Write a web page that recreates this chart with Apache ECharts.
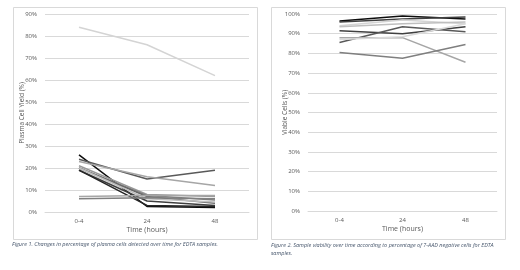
<!DOCTYPE html>
<html>
<head>
<meta charset="utf-8">
<script src="https://cdn.jsdelivr.net/npm/echarts@6/dist/echarts.min.js"></script>
<style>
html,body{margin:0;padding:0;background:#fff}
#chart{width:520px;height:270px}
</style>
</head>
<body>
<div id="chart"></div>
<script>
var timeCats = ['0-4', '24', '48'];

// Figure 1: plasma cell yield (%)
var yieldSeries = [
    [84, 76, 62],
    [26, 2.5, 2],
    [24, 15, 19],
    [23, 16, 12],
    [21, 8, 7],
    [20, 7.5, 5.5],
    [20, 7, 4],
    [20, 6, 4.5],
    [19, 5, 3],
    [19, 3, 2.5],
    [7, 7.5, 7.5],
    [6, 6.5, 6]
];
var yieldColors = ['#d4d4d4', '#0d0d0d', '#595959', '#a6a6a6', '#999999', '#7f7f7f',
    '#666666', '#bfbfbf', '#404040', '#262626', '#a6a6a6', '#808080'];

// Figure 2: viable cells (%)
var viableSeries = [
    [96.5, 99, 97.5],
    [96, 97.5, 98.5],
    [94, 97, 95],
    [93.5, 95, 96],
    [91.5, 90, 93.5],
    [85.5, 93.5, 91],
    [88, 88, 75.5],
    [87, 88.5, 95],
    [80.5, 77.5, 84.5]
];
var viableColors = ['#0d0d0d', '#404040', '#d4d4d4', '#bfbfbf', '#404040', '#595959',
    '#a6a6a6', '#d9d9d9', '#7f7f7f'];

var yieldTicks = {min: 0, max: 90, interval: 10};
var viableTicks = {min: 0, max: 100, interval: 10};

var labelStyle = {color: '#595959', fontSize: 6, fontFamily: 'Open Sans'};
var gridColor = '#d9d9d9';

function makeY(idx, ticks, name, gap) {
    return {
        type: 'value', gridIndex: idx, min: ticks.min, max: ticks.max, interval: ticks.interval,
        name: name, nameLocation: 'middle', nameGap: gap, nameMoveOverlap: false,
        nameTextStyle: {color: '#595959', fontSize: 6.5, fontFamily: 'Open Sans'},
        axisLine: {show: false}, axisTick: {show: false},
        axisLabel: {formatter: '{value}%', color: labelStyle.color, fontSize: labelStyle.fontSize, fontFamily: labelStyle.fontFamily},
        splitLine: {lineStyle: {color: gridColor, width: 1}}
    };
}
function makeX(idx) {
    return {
        type: 'category', gridIndex: idx, data: timeCats, boundaryGap: true,
        name: 'Time (hours)', nameLocation: 'middle', nameGap: 14, nameMoveOverlap: false,
        nameTextStyle: {color: '#595959', fontSize: 7, fontFamily: 'Open Sans'},
        axisLine: {lineStyle: {color: gridColor}}, axisTick: {show: false},
        axisLabel: {color: labelStyle.color, fontSize: labelStyle.fontSize, fontFamily: labelStyle.fontFamily, margin: 6}
    };
}

var series = [];
yieldSeries.forEach(function (d, i) {
    series.push({type: 'line', xAxisIndex: 0, yAxisIndex: 0, data: d, showSymbol: false,
        lineStyle: {color: yieldColors[i], width: 1.5}, itemStyle: {color: yieldColors[i]}});
});
viableSeries.forEach(function (d, i) {
    series.push({type: 'line', xAxisIndex: 1, yAxisIndex: 1, data: d, showSymbol: false,
        lineStyle: {color: viableColors[i], width: 1.5}, itemStyle: {color: viableColors[i]}});
});

var captionStyle = {color: '#44546a', fontSize: 5.5, fontStyle: 'italic', fontWeight: 'normal', fontFamily: 'Open Sans'};

var option = {
    animation: false,
    backgroundColor: '#fff',
    title: [
        {text: 'Figure 1. Changes in percentage of plasma cells detected over time for EDTA samples.',
            left: 12, top: 241, padding: 0, textStyle: captionStyle},
        {text: 'Figure 2. Sample viability over time according to percentage of 7-AAD negative cells for EDTA\nsamples.',
            left: 271, top: 241, padding: 0, textStyle: Object.assign({lineHeight: 8}, captionStyle)}
    ],
    graphic: [
        {type: 'rect', shape: {x: 13.5, y: 7.5, width: 244, height: 232}, style: {fill: 'none', stroke: '#d9d9d9', lineWidth: 1}},
        {type: 'rect', shape: {x: 271.5, y: 7.5, width: 234, height: 232}, style: {fill: 'none', stroke: '#d9d9d9', lineWidth: 1}}
    ],
    grid: [
        {left: 45, right: 271, top: 14, bottom: 58},
        {left: 308, right: 23, top: 14, bottom: 59}
    ],
    xAxis: [makeX(0), makeX(1)],
    yAxis: [makeY(0, yieldTicks, 'Plasma Cell Yield (%)', 19), makeY(1, viableTicks, 'Viable Cells (%)', 19)],
    series: series
};

var chart = echarts.init(document.getElementById('chart'));
chart.setOption(option);
</script>
</body>
</html>
